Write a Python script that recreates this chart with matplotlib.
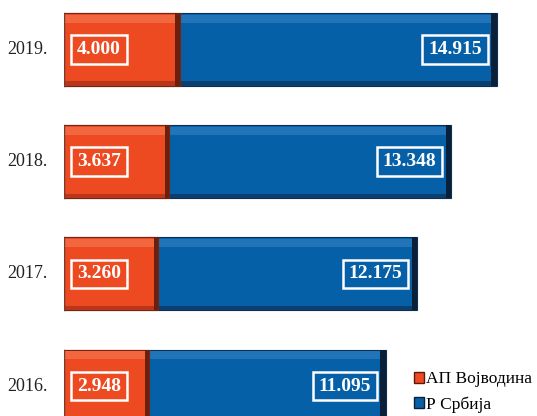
import matplotlib.pyplot as plt
from matplotlib.patches import Patch

years = ['2016.', '2017.', '2018.', '2019.']
vojvodina = [2.948, 3.260, 3.637, 4.000]
srbija = [11.095, 12.175, 13.348, 14.915]

orange = '#EE4A22'
blue = '#0560A8'

plt.rcParams['font.family'] = ['Liberation Serif', 'DejaVu Serif']

fig = plt.figure(figsize=(5.37, 4.16), dpi=100)
ax = fig.add_axes([0.1184, 0, 0.8816, 1])

y = list(range(len(years)))
h = 0.65

# blue bars start at zero too, orange drawn on top
ax.barh(y, srbija, height=h, color=blue, edgecolor='#0B2F55', linewidth=0.8, zorder=2)
ax.barh(y, vojvodina, height=h, color=orange, edgecolor='#7A2410', linewidth=0.8, zorder=3)

# bevel-ish shading
for yi, s, v in zip(y, srbija, vojvodina):
    ax.barh(yi, 0.2, left=s - 0.2, height=h, color='#0A1F38', zorder=2.5)
    ax.barh(yi, 0.15, left=v - 0.15, height=h, color='#6A200C', zorder=3.5)
    ax.barh(yi + h / 2 - 0.05, v, height=0.07, color='#F26640', zorder=3.2)
    ax.barh(yi + h / 2 - 0.05, s, height=0.07, color='#2274B8', zorder=2.2)
    ax.barh(yi - h / 2 + 0.02, v, height=0.04, color='#B8361A', zorder=3.2)
    ax.barh(yi - h / 2 + 0.02, s, height=0.04, color='#0A3F70', zorder=2.2)
    ax.plot([0, 0], [yi - h / 2, yi + h / 2], color='#7A3A30', lw=1, zorder=4)

box = dict(boxstyle='square,pad=0.3', fc='none', ec='white', lw=1.8)
for yi, s, v in zip(y, srbija, vojvodina):
    ax.text(0.47, yi, f'{v:.3f}', color='white', fontsize=14, fontweight='bold',
            ha='left', va='center', bbox=box, zorder=5)
    ax.text(s - 0.52, yi, f'{s:.3f}', color='white', fontsize=14, fontweight='bold',
            ha='right', va='center', bbox=box, zorder=5)
    ax.text(-0.55, yi, years[yi], color='#222222', fontsize=13, ha='right', va='center')

ax.set_xlim(0, 16.29)
ax.set_ylim(-0.267, 3.441)
for s in ax.spines.values():
    s.set_visible(False)
ax.set_xticks([])
ax.set_yticks([])

handles = [Patch(facecolor=orange, edgecolor='#5A1A0A'), Patch(facecolor=blue, edgecolor='#0A1F38')]
fig.legend(handles, ['АП Војводина', 'Р Србија'], loc='lower left', bbox_to_anchor=(0.745, -0.025),
           frameon=False, fontsize=12.5, handlelength=0.6, handleheight=0.6, handletextpad=0.1,
           labelspacing=0.5, borderpad=0.3)

plt.savefig('out.png', dpi=100)
